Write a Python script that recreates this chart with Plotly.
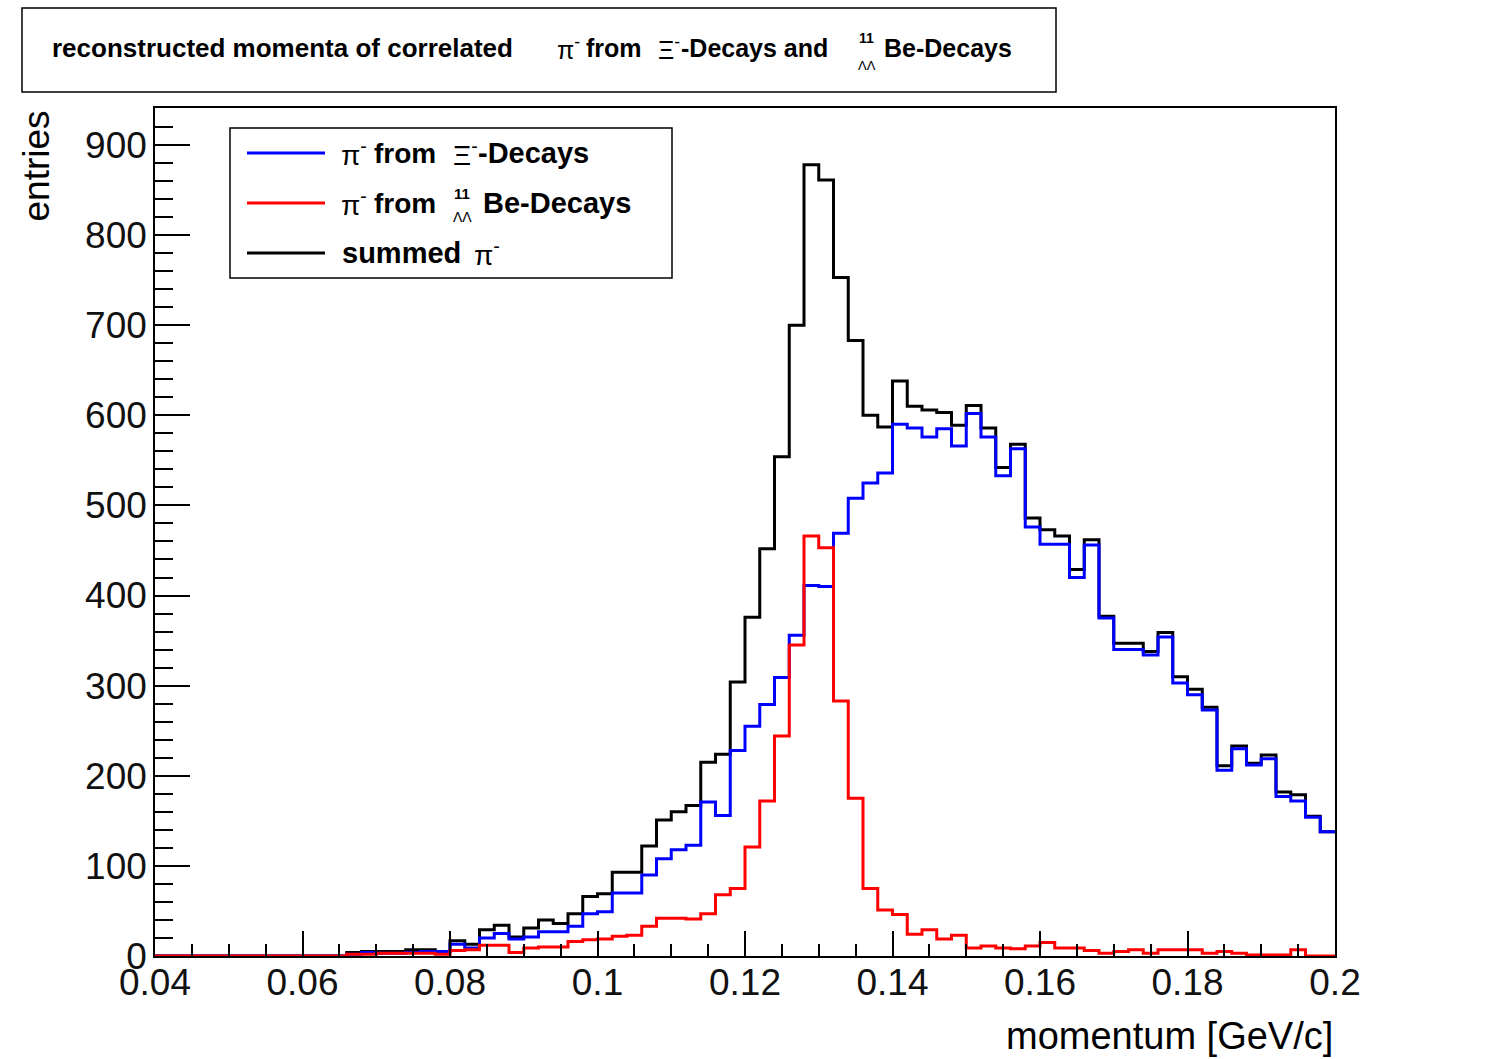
import numpy as np
import plotly.graph_objects as go

# ---- data (80 bins from 0.04 to 0.2 GeV/c) ----
x_min, x_max, n_bins = 0.04, 0.2, 80

xi_decays = [0]*13 + [2, 4, 3, 3, 4, 5, 5,
    13, 9, 20, 25, 19, 21, 27, 27, 33, 47,
    49, 70, 70, 90, 108, 118, 123, 171, 156, 228,
    255, 279, 309, 356, 411, 410, 469, 508, 525, 536,
    590, 586, 576, 585, 566, 602, 576, 533, 563, 476,
    457, 457, 420, 456, 375, 340, 340, 334, 354, 303,
    290, 273, 206, 230, 212, 219, 177, 172, 154, 138]

be_decays = [0]*13 + [2, 2, 3, 3, 3, 3, 2,
    6, 7, 12, 12, 4, 9, 10, 10, 16, 18,
    19, 22, 23, 33, 42, 42, 41, 47, 68, 75,
    121, 172, 244, 345, 466, 453, 283, 175, 75, 51,
    46, 24, 29, 19, 23, 9, 11, 9, 8, 11,
    15, 9, 9, 6, 3, 5, 7, 3, 7, 7,
    7, 3, 5, 3, 1, 1, 1, 7, 0, 0]

summed = [0]*13 + [4, 5, 5, 5, 7, 7, 5,
    17, 13, 29, 34, 21, 31, 40, 36, 47, 66,
    69, 93, 93, 122, 151, 160, 167, 215, 224, 304,
    376, 452, 554, 700, 878, 861, 753, 683, 600, 587,
    638, 610, 606, 603, 589, 611, 586, 542, 568, 486,
    473, 466, 429, 462, 377, 347, 347, 338, 359, 310,
    296, 276, 211, 233, 214, 223, 182, 179, 155, 138]

x_tickvals = [0.04, 0.06, 0.08, 0.1, 0.12, 0.14, 0.16, 0.18, 0.2]
x_ticktext = ["0.04", "0.06", "0.08", "0.1", "0.12", "0.14", "0.16", "0.18", "0.2"]

# ---- geometry helpers (pixel -> paper) ----
L, R, T, B = 155, 1335, 108, 956
W, H = R - L, B - T
def px(x):
    return (x - L) / W
def py(y):
    return (B - y) / H

edges = np.linspace(x_min, x_max, n_bins + 1)

def steps(vals):
    v = list(vals)
    return edges, v + [v[-1]]

fig = go.Figure()
for vals, col in [(summed, "black"), (xi_decays, "#0000ff"), (be_decays, "#ff0000")]:
    xs, ys = steps(vals)
    fig.add_trace(go.Scatter(x=xs, y=ys, mode="lines", line=dict(color=col, width=3, shape="hv"),
                             showlegend=False, hoverinfo="skip"))

FONT = "Liberation Sans, Arial, Helvetica, sans-serif"
fig.update_layout(
    width=1486, height=1059,
    margin=dict(l=L, r=1486 - R, t=T, b=1059 - B),
    paper_bgcolor="white", plot_bgcolor="white",
    showlegend=False,
    font=dict(family=FONT, color="#111"),
    xaxis=dict(range=[x_min, x_max], tickvals=x_tickvals, ticktext=x_ticktext,
               ticks="inside", ticklen=25, tickwidth=1.5, tickcolor="black",
               minor=dict(dtick=0.005, tick0=0.04, ticks="inside", ticklen=12, tickwidth=1.5, tickcolor="black"),
               showline=True, mirror=True, linecolor="black", linewidth=1.5,
               showgrid=False, zeroline=False, tickfont=dict(size=37), ticklabelstandoff=-7),
    yaxis=dict(range=[0, 941], tick0=0, dtick=100,
               ticks="inside", ticklen=35, tickwidth=1.5, tickcolor="black",
               minor=dict(dtick=20, ticks="inside", ticklen=18, tickwidth=1.5, tickcolor="black"),
               showline=True, mirror=True, linecolor="black", linewidth=1.5,
               showgrid=False, zeroline=False, tickfont=dict(size=37), ticklabelstandoff=-1),
)

shapes = []
ann = []

def text(x, y, s, size, bold=True, xanchor="left", yanchor="middle", angle=0):
    ann.append(dict(x=px(x), y=py(y), xref="paper", yref="paper", text=(f"<b>{s}</b>" if bold else s),
                    showarrow=False, xanchor=xanchor, yanchor=yanchor, textangle=angle,
                    font=dict(size=size, family=FONT, color="black")))

# axis titles
text(36, 108, "entries", 37, bold=False, xanchor="center", yanchor="top", angle=-90)
text(1335, 1036, "momentum [GeV/c]", 38, bold=False, xanchor="right")

# title box
shapes.append(dict(type="rect", xref="paper", yref="paper", x0=px(22), x1=px(1056), y0=py(92), y1=py(8),
                   line=dict(color="black", width=1.5), fillcolor="white", layer="above"))
text(50, 48, "reconstructed momenta of correlated", 26)
text(555, 48, "π<sup>-</sup>", 25, bold=False)
text(584, 48, "from", 25)
text(656, 48, "Ξ<sup>-</sup>", 25, bold=False)
text(679, 48, "-Decays and", 25)
text(857, 38, "11", 14)
text(856, 66, "ΛΛ", 13, bold=False)
text(882, 48, "Be-Decays", 25)

# legend box
shapes.append(dict(type="rect", xref="paper", yref="paper", x0=px(230), x1=px(672), y0=py(278), y1=py(128),
                   line=dict(color="black", width=1.5), fillcolor="white", layer="above"))
for yy, col in [(153, "#0000ff"), (203, "#ff0000"), (253, "black")]:
    shapes.append(dict(type="line", xref="paper", yref="paper", x0=px(247), x1=px(325), y0=py(yy), y1=py(yy),
                       line=dict(color=col, width=3), layer="above"))
text(339, 153, "π<sup>-</sup>", 28, bold=False)
text(372, 153, "from", 28)
text(451, 153, "Ξ<sup>-</sup>", 28, bold=False)
text(476, 153, "-Decays", 29)
text(339, 203, "π<sup>-</sup>", 28, bold=False)
text(372, 203, "from", 28)
text(452, 194, "11", 15)
text(451, 217, "ΛΛ", 14, bold=False)
text(481, 203, "Be-Decays", 29)
text(340, 253, "summed", 29)
text(472, 253, "π<sup>-</sup>", 28, bold=False)

fig.update_layout(shapes=shapes, annotations=ann)
fig.write_html("out.html")
